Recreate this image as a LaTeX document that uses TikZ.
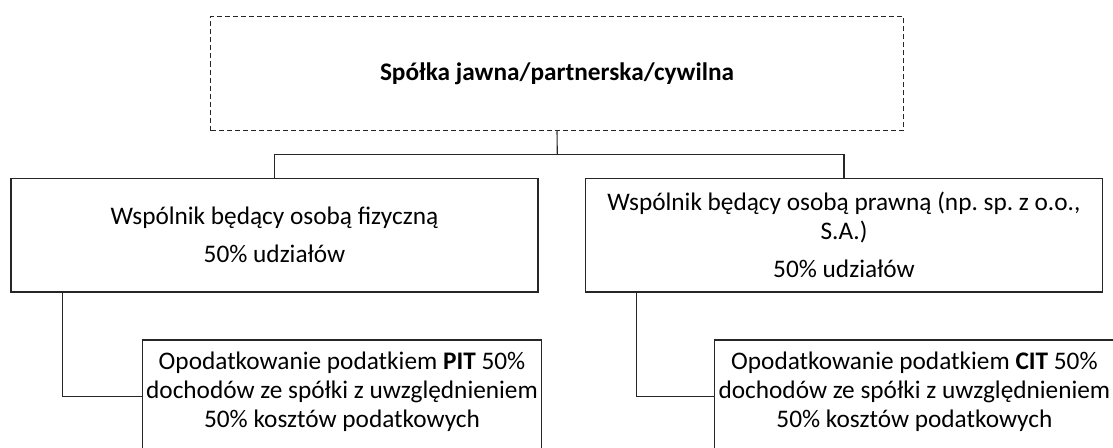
\documentclass[tikz,border=0pt]{standalone}
\usepackage{fontspec}
\setmainfont{Carlito}
\frenchspacing
\begin{document}
\begin{tikzpicture}[x=1pt,y=-1pt,
  txt/.style={inner sep=0pt, align=center, font=\fontsize{25.3}{29}\selectfont},
  box/.style={txt, draw=black!85, line width=1.1pt},
  conn/.style={draw=black!85, line width=1.1pt}]
\clip (0,0) rectangle (1113,447);
\useasboundingbox (0,0) rectangle (1113,447);
\node[box, dash pattern=on 5pt off 3pt, minimum width=692.6pt, minimum height=114pt] (top) at (557,73.7) {\textbf{Spółka jawna/partnerska/cywilna}};
\node[box, minimum width=527pt, minimum height=113.3pt] (L) at (274.5,235.3)
  {Wspólnik będący osobą fizyczną\\[9pt]50\% udziałów};
\node[box, minimum width=517.4pt, minimum height=113.3pt] (R) at (844,235.3)
  {Wspólnik będący osobą prawną (np. sp. z o.o.,\\S.A.)\\[9pt]50\% udziałów};
\node[box, minimum width=399.4pt, minimum height=112.6pt] (P) at (342,396.3) {};
\node[txt] (Ptext) at ([yshift=5pt]P.center)
  {Opodatkowanie podatkiem \textbf{PIT} 50\%\\dochodów ze spółki z uwzględnieniem\\50\% kosztów podatkowych};
\node[box, minimum width=399.4pt, minimum height=112.6pt] (C) at (914.4,396.3) {};
\node[txt] (Ctext) at ([yshift=5pt]C.center)
  {Opodatkowanie podatkiem \textbf{CIT} 50\%\\dochodów ze spółki z uwzględnieniem\\50\% kosztów podatkowych};
\coordinate (bar) at (557.3,154.3);
\draw[conn] (top.south) -- (bar);
\draw[conn] (L.north) |- (bar) -| (R.north);
\draw[conn] ([xshift=52.3pt]L.south west) |- (P.west);
\draw[conn] ([xshift=51.7pt]R.south west) |- (C.west);
\end{tikzpicture}
\end{document}
